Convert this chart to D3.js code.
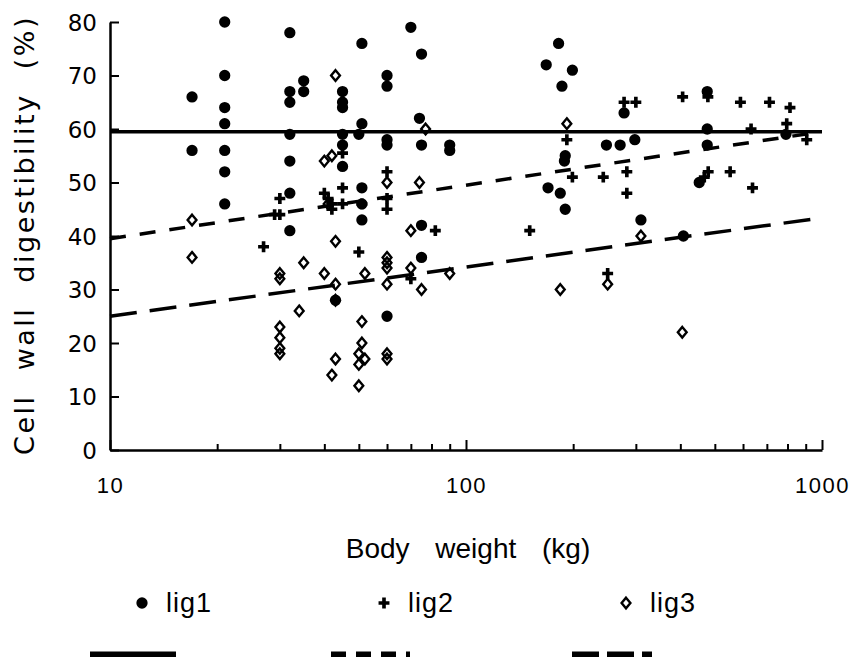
<!DOCTYPE html>
<html><head><meta charset="utf-8">
<script src="https://cdn.jsdelivr.net/npm/d3@7"></script>
<style>
html,body{margin:0;padding:0;background:#fff;}
svg{display:block;}
</style></head>
<body>
<svg id="chart" width="856" height="657"></svg>
<script>
// ---- data (body weight kg, cell wall digestibility %) ----
const lig1 = [
[17,66],[17,56],
[21,80],[21,70],[21,64],[21,61],[21,56],[21,52],[21,46],
[32,78],[32,67],[32,65],[32,59],[32,54],[32,48],[32,41],
[35,69],[35,67],
[43,28],
[45,67],[45,65],[45,64],[45,59],[45,57],[45,53],
[51,76],[51,61],[50,59],[51,49],[51,46],[51,43],
[60,70],[60,68],[60,58],[60,57],[60,25],
[70,79],[75,74],[74,62],[75,57],[75,42],[75,36],
[90,57],[90,56],
[168,72],[182,76],[199,71],[186,68],[190,55],[189,54],[170,49],[184,48],[190,45],
[248,57],[271,57],[298,58],[278,63],[310,43],
[408,40],
[476,67],[476,60],[476,57],[452,50],[792,59]
];
const lig2 = [
[27,38],[29,44],[30,44],[30,47],
[40,48],[41,47],[42,46],[42,45],
[45,55.5],[45,49],[45,46],
[50,37],[51,46],
[60,52],[60,47],[60,45],
[70,32],[82,41],
[151,41],[192,58],[199,51],
[243,51],[250,33],[278,65],[300,65],[283,52],[283,48],
[406,66],[478,66],[479,52],[467,51],[552,52],[590,65],[632,60],[638,49],[712,65],[813,64],[796,61],[906,58]
];
const lig3 = [
[17,43],[17,36],
[30,33],[30,32],[30,23],[30,21],[30,19],[30,18],
[34,26],[35,35],
[40,54],[42,55],[40,33],[43,31],[41,46],
[43,70],[43,39],[43,28],[43,17],[42,14],
[51,24],[51,20],[50,18],[52,17],[50,16],[50,12],[52,33],
[60,50],[60,36],[60,35],[60,34],[60,31],[60,18],[60,17],
[70,41],[70,34],[74,50],[75,30],[77,60],[90,33],
[184,30],[192,61],[250,31],[310,40],[405,22]
];
// fitted lines (value at x = 10 and x = 1000)
const fitX = [10, 1000];
const fitLig1 = [59.5, 59.5];
const fitLig2 = [39.5, 59.5];
const fitLig3 = [25.0, 43.4];

const xMajorTicks = [10, 100, 1000];
const xMinorTicks = [20,30,40,50,60,70,80,90,200,300,400,500,600,700,800,900];
const yTicks = [0,10,20,30,40,50,60,70,80];
const legendLabels = ["lig1","lig2","lig3"];
const xTitle = "Body weight (kg)";
const yTitle = "Cell wall digestibility (%)";

// ---- drawing ----
const svg = d3.select("#chart");
const x = d3.scaleLog().domain([10,1000]).range([110,822]);
const y = d3.scaleLinear().domain([0,80]).range([450,22]);

// axes
const gx = svg.append("g").attr("transform","translate(0,450)")
  .call(d3.axisBottom(x).tickValues(xMajorTicks).tickFormat(d3.format("d"))
        .tickSize(-10).tickSizeOuter(0).tickPadding(27));
const gxm = svg.append("g").attr("transform","translate(0,450)")
  .call(d3.axisBottom(x).tickValues(xMinorTicks).tickFormat("").tickSize(-6).tickSizeOuter(0));
gxm.select(".domain").remove();
const gy = svg.append("g").attr("transform","translate(110,0)")
  .call(d3.axisLeft(y).tickValues(yTicks).tickSize(-9).tickSizeOuter(0).tickPadding(13));

[gx,gxm,gy].forEach(g=>{
  g.selectAll(".domain").attr("stroke","#000").attr("stroke-width",2.5);
  g.selectAll(".tick line").attr("stroke","#000").attr("stroke-width",2);
});
gx.selectAll(".tick text").attr("font-family","'Liberation Sans',Arial,sans-serif")
  .attr("font-size",22).attr("letter-spacing","1.5px").attr("fill","#000");
gy.selectAll(".tick text").attr("font-family","'DejaVu Sans',sans-serif")
  .attr("font-size",23).attr("fill","#000").attr("dy","0.36em");

// titles
svg.append("text").attr("x",468).attr("y",558).attr("text-anchor","middle")
  .attr("font-family","'Liberation Sans',Arial,sans-serif").attr("font-size",28)
  .attr("word-spacing","18px").text(xTitle);
svg.append("text").attr("transform","translate(34,235) rotate(-90)").attr("text-anchor","middle")
  .attr("font-family","'DejaVu Sans',sans-serif").attr("font-size",27)
  .attr("letter-spacing","2.5px").attr("word-spacing","13px").text(yTitle);

// fit lines
const line = d3.line().x(d=>x(d[0])).y(d=>y(d[1]));
const fits = [
  {v:fitLig1, dash:null},
  {v:fitLig2, dash:"16,14"},
  {v:fitLig3, dash:"27,13"}
];
fits.forEach(f=>{
  svg.append("path").datum(fitX.map((xx,i)=>[xx,f.v[i]]))
    .attr("d",line).attr("fill","none").attr("stroke","#000").attr("stroke-width",3.5)
    .attr("stroke-dasharray",f.dash);
});

// markers
const circlePath = d3.symbol(d3.symbolCircle, 100)();
const crossPath = d3.symbol(d3.symbolCross, 66)();
const diamondPath = "M0,-5.3L4.4,0L0,5.3L-4.4,0Z";

svg.append("g").selectAll("path").data(lig1).join("path")
  .attr("d",circlePath).attr("transform",d=>`translate(${x(d[0])},${y(d[1])})`).attr("fill","#000");
svg.append("g").selectAll("path").data(lig2).join("path")
  .attr("d",crossPath).attr("transform",d=>`translate(${x(d[0])},${y(d[1])})`).attr("fill","#000");
svg.append("g").selectAll("path").data(lig3).join("path")
  .attr("d",diamondPath).attr("transform",d=>`translate(${x(d[0])},${y(d[1])})`)
  .attr("fill","none").attr("stroke","#000").attr("stroke-width",2.4);

// legend
const leg = svg.append("g");
const legSym = [circlePath, crossPath, diamondPath];
const legX = [142, 384, 626];
const legDash = [null, "15,10", "27,8"];
const legLineX = [[90,176],[331,410],[572,652]];
legendLabels.forEach((lab,i)=>{
  const p = leg.append("path").attr("d",legSym[i]).attr("transform",`translate(${legX[i]},603)`);
  if(i<2) p.attr("fill","#000"); else p.attr("fill","none").attr("stroke","#000").attr("stroke-width",2.4);
  leg.append("text").attr("x",legX[i]+24).attr("y",612)
    .attr("font-family","'Liberation Sans',Arial,sans-serif").attr("font-size",27)
    .attr("letter-spacing","1px").text(lab);
  leg.append("line").attr("x1",legLineX[i][0]).attr("x2",legLineX[i][1])
    .attr("y1",655).attr("y2",655).attr("stroke","#000").attr("stroke-width",7)
    .attr("stroke-dasharray",legDash[i]);
});
</script>
</body></html>
